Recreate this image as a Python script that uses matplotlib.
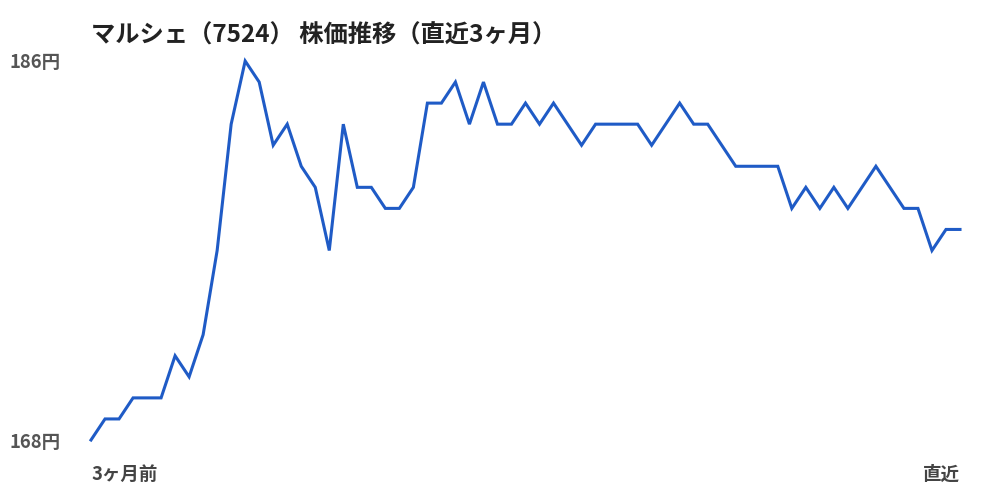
import matplotlib
matplotlib.use("Agg")
import matplotlib.pyplot as plt

plt.rcParams['font.family'] = ['Noto Sans CJK JP', 'DejaVu Sans']

title = "マルシェ（7524） 株価推移（直近3ヶ月）"
prices = [168, 169, 169, 170, 170, 170, 172, 171, 173, 177,
          183, 186, 185, 182, 183, 181, 180, 177, 183, 180,
          180, 179, 179, 180, 184, 184, 185, 183, 185, 183,
          183, 184, 183, 184, 183, 182, 183, 183, 183, 183,
          182, 183, 184, 183, 183, 182, 181, 181, 181, 181,
          179, 180, 179, 180, 179, 180, 181, 180, 179, 179,
          177, 178, 178]
y_ticks = [168, 186]
y_tick_labels = ["168円", "186円"]
x_tick_labels = ["3ヶ月前", "直近"]

fig = plt.figure(figsize=(10, 5), dpi=100)
ax = fig.add_axes([0.091, 0.12, 0.869, 0.758])
x = list(range(len(prices)))
ax.plot(x, prices, color='#1f5bc6', linewidth=2.2, clip_on=False, solid_joinstyle='miter')
ax.set_xlim(0, len(prices) - 1)
ax.set_ylim(y_ticks[0], y_ticks[1])
for s in ax.spines.values():
    s.set_visible(False)
ax.set_yticks(y_ticks)
ax.set_yticklabels(y_tick_labels, fontsize=13.3, fontweight='bold', color='#555555')
ax.tick_params(axis='y', length=0, pad=22)
ax.set_xticks([0, len(prices) - 1])
ax.set_xticklabels(x_tick_labels, fontsize=13.3, fontweight='bold', color='#444444')
ax.tick_params(axis='x', length=0, pad=18)
lbls = ax.get_xticklabels()
lbls[0].set_horizontalalignment('left')
lbls[1].set_horizontalalignment('right')
fig.text(0.091, 0.928, title, fontsize=17.5, fontweight='bold', color='#222222',
         ha='left', va='center')
fig.savefig("out.png", dpi=100, facecolor='white')
